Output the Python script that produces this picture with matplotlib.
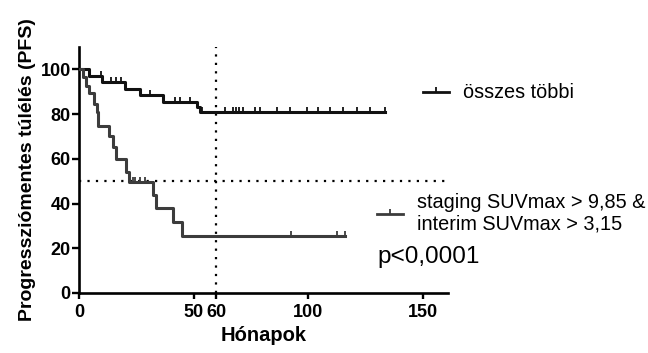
import numpy as np
import matplotlib
matplotlib.use("Agg")
import matplotlib.pyplot as plt
from matplotlib.lines import Line2D

plt.rcParams['font.family'] = ['Liberation Sans', 'DejaVu Sans']

# "összes többi" group: step times (months) and PFS levels (%)
t_rest = [0, 4.5, 10, 20.2, 26.6, 36.8, 51.3, 52.8, 133.5]
s_rest = [100, 97.1, 94.3, 91.4, 88.6, 85.5, 83.0, 81.0, 81.0]
cens_rest = [9.6, 14, 16.1, 18.3, 31, 41.9, 44, 48.4, 53.5, 63.7, 67.2, 68.5,
             70, 71.5, 76.8, 79, 86.4, 92, 99.4, 104.2, 109.5, 115.1, 121.2,
             126.9, 133.5]

# high SUVmax group
t_high = [0, 1.9, 3.1, 4.2, 6.7, 7.7, 8.2, 13.2, 14.7, 16.1, 20.5, 21.7,
          32.1, 33.6, 41.1, 44.8, 116]
s_high = [100, 96.4, 92.7, 89.3, 84.5, 81.0, 74.8, 70.3, 65.2, 59.8, 54.0,
          49.5, 43.7, 38.2, 31.8, 25.4, 25.4]
cens_high = [23.5, 24.4, 26.6, 28.8, 92.5, 112.5, 116]

label_rest = "összes többi"
label_high = "staging SUVmax > 9,85 &\ninterim SUVmax > 3,15"
p_text = "p<0,0001"

x_ticks = [0, 50, 60, 100, 150]
y_ticks = [0, 20, 40, 60, 80, 100]
median_line = 50
month_line = 60

col_rest = '#111111'
col_high = '#3c3c3c'


def level_at(times, levels, t):
    idx = np.searchsorted(times, t, side='right') - 1
    return np.array(levels)[idx]


fig = plt.figure(figsize=(6.48, 3.53), dpi=100)
ax = fig.add_axes([0.1219, 0.170, 0.5694, 0.697])

# reference lines
ax.axvline(month_line, color='black', lw=1.6, linestyle=(0, (1, 2.8)), zorder=1)
ax.axhline(median_line, color='black', lw=1.6, linestyle=(0, (1, 2.8)), zorder=1)

ax.step(t_rest, s_rest, where='post', color=col_rest, lw=2.2, zorder=3)
ax.plot(cens_rest, level_at(t_rest, s_rest, cens_rest), linestyle='none',
        marker=2, markersize=3.5, markeredgewidth=1.3, color=col_rest, zorder=3)

ax.step(t_high, s_high, where='post', color=col_high, lw=2.2, zorder=3)
ax.plot(cens_high, level_at(t_high, s_high, cens_high), linestyle='none',
        marker=2, markersize=3.5, markeredgewidth=1.3, color=col_high, zorder=3)

ax.set_xlim(0, 161)
ax.set_ylim(0, 110)
ax.set_xticks(x_ticks)
ax.set_xticklabels([str(v) for v in x_ticks])
ax.set_yticks(y_ticks)

for side in ['top', 'right']:
    ax.spines[side].set_visible(False)
for side in ['left', 'bottom']:
    ax.spines[side].set_linewidth(1.9)
ax.tick_params(axis='x', width=1.7, length=4.2, labelsize=13, pad=4)
ax.tick_params(axis='y', width=1.7, length=5, labelsize=13, pad=1)
for lab in ax.get_xticklabels() + ax.get_yticklabels():
    lab.set_fontweight('bold')

ax.set_xlabel("Hónapok", fontsize=14.5, fontweight='bold', labelpad=3)
ax.set_ylabel("Progressziómentes túlélés (PFS)", fontsize=14, fontweight='bold', labelpad=3)

# legends (two separate blocks, as in the original)
h_rest = Line2D([], [], color=col_rest, lw=2.0, marker=2, markersize=3.5,
                markeredgewidth=1.3, markevery=[1])
h_high = Line2D([], [], color=col_high, lw=2.0, marker=2, markersize=3.5,
                markeredgewidth=1.3, markevery=[1])
leg1 = ax.legend([h_rest], [label_rest], loc='center left',
                 bbox_to_anchor=(0.932, 0.813), frameon=False, fontsize=14.3,
                 handlelength=1.3, handletextpad=0.7, borderpad=0, borderaxespad=0,
                 numpoints=1)
ax.add_artist(leg1)
ax.legend([h_high], [label_high], loc='center left',
          bbox_to_anchor=(0.808, 0.325), frameon=False, fontsize=14.3,
          handlelength=1.3, handletextpad=0.7, borderpad=0, borderaxespad=0,
          labelspacing=0.05, numpoints=1)

ax.text(0.808, 0.146, p_text, transform=ax.transAxes, fontsize=17.5,
        ha='left', va='center')

fig.savefig("out.png", dpi=100)
